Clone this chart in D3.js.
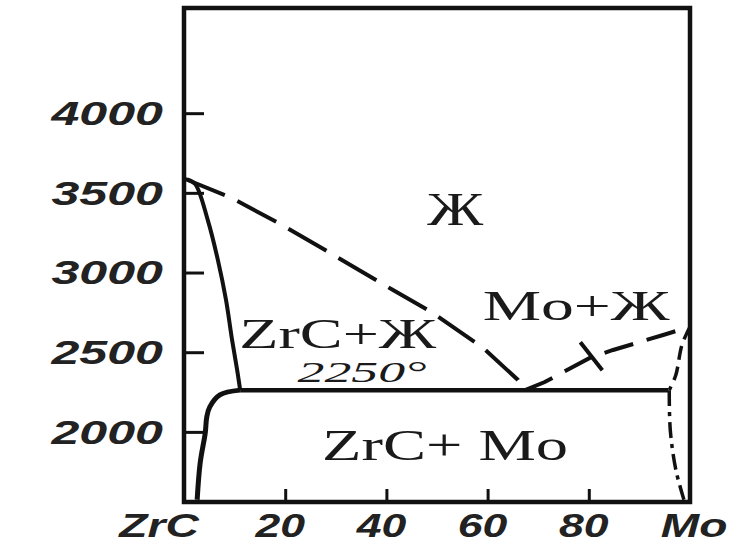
<!DOCTYPE html>
<html>
<head>
<meta charset="utf-8">
<script src="https://cdn.jsdelivr.net/npm/d3@7"></script>
<style>
  html, body { margin: 0; padding: 0; background: #fff; }
  svg { display: block; }
</style>
</head>
<body>
<svg id="chart" width="741" height="545"></svg>
<script>
// ZrC - Mo phase diagram: composition in % Mo, temperature in deg C
const yTicks = [2000, 2500, 3000, 3500, 4000];
const xTicks = [20, 40, 60, 80];
const xEndLabels = ["ZrC", "Mo"];

const liquidusZrC = [[0, 3590], [9.1, 3473], [19.4, 3298], [27.9, 3141], [41.3, 2890], [49.2, 2746], [59.1, 2527], [66.0, 2326], [67.4, 2262]];
const liquidusMo = [[67.4, 2262], [71.3, 2313], [74.3, 2364], [80.2, 2464], [84.8, 2514], [94.7, 2608], [100, 2660]];
const solidusZrC = [[0.6, 3585], [2.2, 3556], [4.7, 3329], [6.7, 3078], [8.3, 2828], [9.5, 2577], [10.5, 2389], [11.1, 2262]];
const solvusZrC = [[11.1, 2262], [7.1, 2232], [5.1, 2157], [4.5, 2094], [4.2, 1994], [3.2, 1806], [2.6, 1574]];
const eutectic = [[11.1, 2262], [95.7, 2262]];
const solidusMo = [[100, 2660], [98.4, 2545], [97.2, 2357], [95.9, 2262]];
const solvusMo = [[95.9, 2262], [96.1, 2013], [97.2, 1762], [98.8, 1574]];
const crossMark = [80.5, 2475];

const regionText = ["Ж", "Mo+Ж", "ZrC+Ж", "2250°", "ZrC+ Mo"];
const regionX = [53.6, 77.5, 30.4, 35.2, 51.6];
const regionT = [3298, 2702, 2527, 2313, 1824];

const svg = d3.select("#chart");
const x = d3.scaleLinear().domain([0, 100]).range([184, 690]);
const y = d3.scaleLinear().domain([1560, 4660]).range([502, 8]);

const smooth = d3.line().x(d => x(d[0])).y(d => y(d[1])).curve(d3.curveCatmullRom.alpha(0.5));
const straight = d3.line().x(d => x(d[0])).y(d => y(d[1]));
const ink = "#111";

// frame
svg.append("rect")
  .attr("x", x(0)).attr("y", y(4660))
  .attr("width", x(100) - x(0)).attr("height", y(1560) - y(4660))
  .attr("fill", "none").attr("stroke", ink).attr("stroke-width", 4.5);

// y ticks (inward)
svg.append("g")
  .attr("transform", "translate(" + x(0) + ",0)")
  .call(d3.axisLeft(y).tickValues(yTicks).tickSize(-20).tickFormat(""))
  .call(g => g.select(".domain").remove())
  .call(g => g.selectAll("line").attr("stroke", ink).attr("stroke-width", 3));

// x ticks (inward)
svg.append("g")
  .attr("transform", "translate(0," + y(1560) + ")")
  .call(d3.axisBottom(x).tickValues(xTicks).tickSize(-13).tickFormat(""))
  .call(g => g.select(".domain").remove())
  .call(g => g.selectAll("line").attr("stroke", ink).attr("stroke-width", 3));

const axisFont = g => g
  .attr("font-family", "'Liberation Sans', Arial, sans-serif")
  .attr("font-weight", "bold")
  .attr("font-style", "italic")
  .attr("font-size", 33)
  .attr("fill", "#222");

svg.append("g").call(axisFont)
  .selectAll("text").data(yTicks).join("text")
  .attr("text-anchor", "end")
  .attr("dy", "0.36em")
  .attr("transform", d => "translate(163," + y(d) + ") scale(1.52,1)")
  .text(d => d);

svg.append("g").call(axisFont)
  .selectAll("text").data(xTicks).join("text")
  .attr("text-anchor", "middle")
  .attr("transform", d => "translate(" + (x(d) - 5) + ",537) scale(1.35,1)")
  .text(d => d);

svg.append("g").call(axisFont)
  .selectAll("text").data(xEndLabels).join("text")
  .attr("text-anchor", "middle")
  .attr("transform", (d, i) => "translate(" + (i === 0 ? x(0) - 25 : x(100) + 4) + ",537) scale(1.4,1)")
  .text(d => d);

// phase boundaries
const curves = svg.append("g").attr("fill", "none").attr("stroke", ink).attr("stroke-linecap", "butt");
curves.append("path").attr("d", straight(liquidusZrC)).attr("stroke-width", 4).attr("stroke-dasharray", "44,14");
curves.append("path").attr("d", straight(liquidusMo)).attr("stroke-width", 4).attr("stroke-dasharray", "30,14");
curves.append("path").attr("d", smooth(solidusZrC)).attr("stroke-width", 4);
curves.append("path").attr("d", smooth(solvusZrC)).attr("stroke-width", 5);
curves.append("path").attr("d", straight(eutectic)).attr("stroke-width", 4.5);
curves.append("path").attr("d", smooth(solidusMo)).attr("stroke-width", 3.5).attr("stroke-dasharray", "14,7");
curves.append("path").attr("d", smooth(solvusMo)).attr("stroke-width", 3.5).attr("stroke-dasharray", "16,6,4,6");

// small cross stroke on the Mo liquidus
const cx = x(crossMark[0]), cy = y(crossMark[1]);
curves.append("line")
  .attr("x1", cx - 11).attr("y1", cy - 14).attr("x2", cx + 11).attr("y2", cy + 14)
  .attr("stroke-width", 4);

// region labels
const regionSize = [46, 42, 42, 30, 45];
const regionWidth = [56, 187, 197, 129, 246];
svg.append("g")
  .attr("font-family", "'Liberation Serif', 'Times New Roman', serif")
  .attr("fill", "#1a1a1a")
  .selectAll("text").data(regionText).join("text")
  .attr("x", (d, i) => x(regionX[i]))
  .attr("y", (d, i) => y(regionT[i]))
  .attr("text-anchor", "middle")
  .attr("font-size", (d, i) => regionSize[i])
  .attr("font-style", (d, i) => i === 3 ? "italic" : "normal")
  .attr("textLength", (d, i) => regionWidth[i])
  .attr("lengthAdjust", "spacingAndGlyphs")
  .text(d => d);
</script>
</body>
</html>
